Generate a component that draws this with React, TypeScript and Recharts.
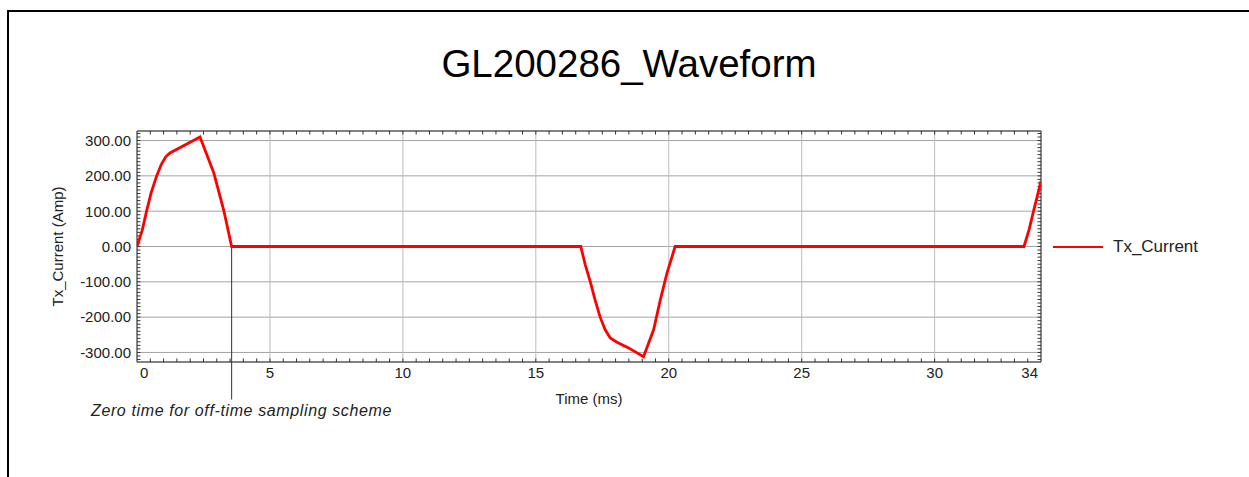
import React from "react"
import {
  CartesianGrid,
  Legend,
  Line,
  LineChart,
  ReferenceLine,
  XAxis,
  YAxis,
} from "recharts"

// time in ms and transmitter current in amps
const timeMs = [
  0, 0.2, 0.36, 0.53, 0.74, 0.91, 1.08, 1.24, 2.37, 2.89, 3.27, 3.56,
  16.69, 16.86, 17.05, 17.23, 17.42, 17.61, 17.8, 18.05, 18.49, 19.05, 19.43, 19.68, 19.93, 20.24,
  33.36, 33.55, 33.72, 34.0,
]
const txCurrent = [
  0, 47, 100, 152, 200, 232, 254, 265, 310, 208, 100, 0,
  0, -52, -100, -152, -200, -236, -259, -271, -287, -312, -236, -152, -76, 0,
  0, 47, 100, 185,
]

const xTicks = [0, 5, 10, 15, 20, 25, 30, 34]
const yTicks = [-300, -200, -100, 0, 100, 200, 300]
const xDomain = [0, 34]
const yDomain = [-327, 327]

// off-time zero marker (ms) and how far below the axis its line runs (amps)
const zeroTimeMs = 3.56
const zeroTimeLineEnd = -433

// minor tick marks drawn inward on all four sides of the frame
const minorXTicks = Array.from({ length: 67 }, (_, i) => (i + 1) * 0.5)
const minorYTicks = Array.from({ length: 65 }, (_, i) => -320 + i * 10)
const xTickLen = 0.13 // ms
const yTickLen = 10 // amps

const data = timeMs.map((t, i) => ({ t, Tx_Current: txCurrent[i] }))

const FONT = "'Liberation Sans', Arial, sans-serif"
const INK = "#222222"
const FRAME = "#333333"

function XTick(props: any) {
  const { x, y, payload } = props
  let anchor: "start" | "middle" | "end" = "middle"
  let dx = 0
  if (payload.value === xDomain[0]) {
    anchor = "start"
    dx = 3
  } else if (payload.value === xDomain[1]) {
    anchor = "end"
    dx = -3
  }
  return (
    <text x={x + dx} y={y} dy="0.71em" textAnchor={anchor} fill={INK} fontSize={15} fontFamily={FONT}>
      {payload.value}
    </text>
  )
}

function LegendContent(props: any) {
  const { payload } = props
  return (
    <div style={{ fontFamily: FONT }}>
      {(payload || []).map((entry: any) => (
        <div key={entry.value} style={{ display: "flex", alignItems: "center" }}>
          <svg width={50} height={10}>
            <line x1={0} y1={5} x2={50} y2={5} stroke={entry.color} strokeWidth={2} />
          </svg>
          <span style={{ marginLeft: 10, fontSize: 17, color: INK }}>{entry.value}</span>
        </div>
      ))}
    </div>
  )
}

export default function App() {
  const [xMin, xMax] = xDomain
  const [yMin, yMax] = yDomain
  return (
    <div style={{ position: "absolute", left: 0, top: 0, width: 1249, height: 477, background: "#fff", overflow: "hidden" }}>
      <div
        style={{
          position: "absolute",
          left: 7,
          top: 10,
          width: 1242,
          height: 467,
          boxSizing: "border-box",
          borderLeft: "2px solid #000",
          borderTop: "2px solid #000",
        }}
      />
      <div
        style={{
          position: "absolute",
          left: 0,
          top: 45,
          width: 1258,
          textAlign: "center",
          fontFamily: FONT,
          fontSize: 38.5,
          lineHeight: "38px",
          color: "#000",
        }}
      >
        GL200286_Waveform
      </div>
      <div
        style={{
          position: "absolute",
          left: 91,
          top: 403,
          fontFamily: FONT,
          fontStyle: "italic",
          fontSize: 16,
          lineHeight: "16px",
          letterSpacing: 0.62,
          color: INK,
          whiteSpace: "nowrap",
        }}
      >
        Zero time for off-time sampling scheme
      </div>
      <div style={{ position: "absolute", left: 0, top: 0 }}>
        <LineChart
          width={1249}
          height={477}
          data={data}
          margin={{ top: 131, right: 208, bottom: 85, left: 57 }}
          style={{ fontFamily: FONT }}
        >
          <CartesianGrid vertical={false} stroke="#a4a4a4" />
          <CartesianGrid horizontal={false} stroke="#bcbcbc" />
          <XAxis
            dataKey="t"
            type="number"
            domain={xDomain}
            ticks={xTicks}
            interval={0}
            allowDataOverflow
            height={30}
            axisLine={{ stroke: FRAME }}
            tickLine={false}
            tickSize={0}
            tickMargin={5}
            tick={<XTick />}
            label={{ value: "Time (ms)", position: "bottom", offset: 1, fill: INK, fontSize: 15 }}
          />
          <YAxis
            type="number"
            domain={yDomain}
            ticks={yTicks}
            interval={0}
            allowDataOverflow
            width={80}
            axisLine={{ stroke: FRAME }}
            tickLine={false}
            tickSize={0}
            tickMargin={6}
            tick={{ fill: INK, fontSize: 15 }}
            tickFormatter={(v: number) => v.toFixed(2)}
            label={{
              value: "Tx_Current (Amp)",
              angle: -90,
              position: "insideLeft",
              offset: 1,
              fill: INK,
              fontSize: 15,
              style: { textAnchor: "middle" },
            }}
          />
          <ReferenceLine y={yMax} stroke={FRAME} ifOverflow="visible" />
          <ReferenceLine x={xMax} stroke={FRAME} ifOverflow="visible" />
          {minorXTicks.map((t) => (
            <ReferenceLine
              key={`xb${t}`}
              segment={[
                { x: t, y: yMin },
                { x: t, y: yMin + yTickLen },
              ]}
              stroke={FRAME}
              ifOverflow="visible"
            />
          ))}
          {minorXTicks.map((t) => (
            <ReferenceLine
              key={`xt${t}`}
              segment={[
                { x: t, y: yMax },
                { x: t, y: yMax - yTickLen },
              ]}
              stroke={FRAME}
              ifOverflow="visible"
            />
          ))}
          {minorYTicks.map((v) => (
            <ReferenceLine
              key={`yl${v}`}
              segment={[
                { x: xMin, y: v },
                { x: xMin + xTickLen, y: v },
              ]}
              stroke={FRAME}
              ifOverflow="visible"
            />
          ))}
          {minorYTicks.map((v) => (
            <ReferenceLine
              key={`yr${v}`}
              segment={[
                { x: xMax, y: v },
                { x: xMax - xTickLen, y: v },
              ]}
              stroke={FRAME}
              ifOverflow="visible"
            />
          ))}
          <ReferenceLine
            segment={[
              { x: zeroTimeMs, y: 0 },
              { x: zeroTimeMs, y: zeroTimeLineEnd },
            ]}
            stroke={FRAME}
            strokeWidth={1}
            ifOverflow="visible"
          />
          <Legend
            layout="vertical"
            align="center"
            verticalAlign="middle"
            content={<LegendContent />}
            wrapperStyle={{ left: 1053, top: 237, width: 180 }}
          />
          <Line
            type="linear"
            dataKey="Tx_Current"
            name="Tx_Current"
            stroke="#ff0000"
            strokeWidth={2.8}
            dot={false}
            activeDot={false}
            isAnimationActive={false}
          />
        </LineChart>
      </div>
    </div>
  )
}
